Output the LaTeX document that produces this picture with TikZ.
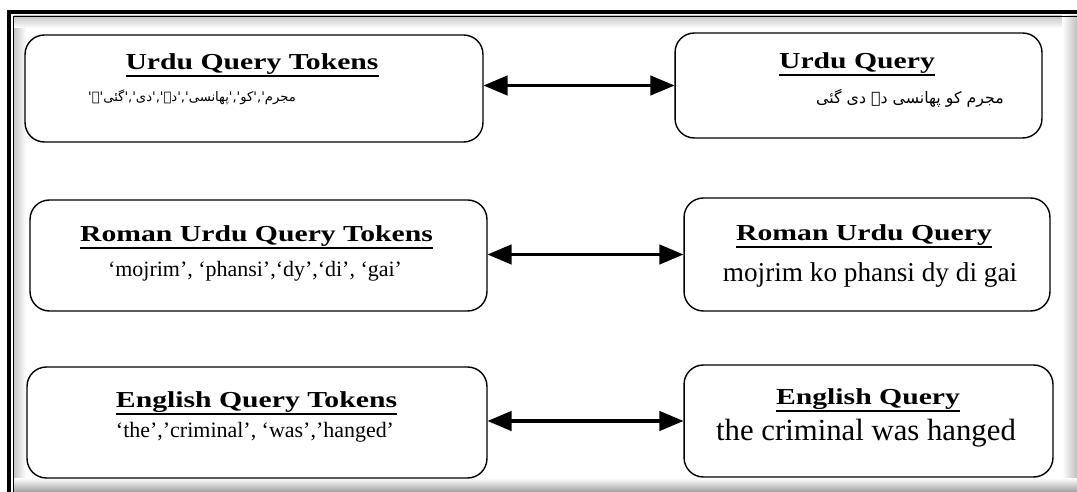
\documentclass[tikz,border=0pt]{standalone}
\usepackage{fontspec}
\usepackage{graphicx}
\setmainfont{Liberation Serif}
\newfontfamily\urdufont[Script=Arabic]{DejaVu Sans}
\TeXXeTstate=1
\usetikzlibrary{shapes,arrows}
\tikzset{%
	qbox/.style		= {draw, line width = 0.8pt, rectangle, rounded corners = 11pt, fill = white, inner sep = 0pt},
	heading/.style	= {anchor = base, inner sep = 0pt, font = \fontsize{13}{15}\selectfont},
	qtext/.style	= {anchor = base, inner sep = 0pt}, % Box content
	urdu/.style		= {anchor = center, inner sep = 0pt, font = \urdufont\fontsize{7.5}{9}\selectfont},
	link/.style		= {<->, line width = 2.2pt} % Two-way arrow
}
\newcommand{\boxtitle}[1]{\scalebox{1.3}[1]{\bfseries\setbox0\hbox{#1}\rlap{\rule[-3.8pt]{\wd0}{1.2pt}}\box0}}

\begin{document}
\begin{tikzpicture}[x = 0.02cm, y = -0.02cm, >=triangle 45]
	\useasboundingbox[fill = white] (0,0) rectangle (1077,492);
	% Frame and its shadow
	\shade[left color = gray!45, right color = white] (14,16) rectangle (26,492);
	\shade[top color = gray!45, bottom color = white] (14,16) rectangle (1077,28);
	\shade[left color = white, right color = gray!50] (1062,16) rectangle (1077,492);
	\shade[top color = white, bottom color = gray!75] (14,478) rectangle (1077,492);
	\draw[line width = 2.4pt] (9,492) -- (9,12) -- (1077,12);
	\draw[line width = 0.6pt] (13.5,492) -- (13.5,16.5) -- (1077,16.5);

	\draw % Drawing the boxes
	node at (254,88.5) [qbox, minimum width = 9.16cm, minimum height = 2.14cm] (utok) {}
	node at (858.5,85.5) [qbox, minimum width = 7.34cm, minimum height = 2.1cm] (uq) {}
	node at (258.5,255.5) [qbox, minimum width = 9.14cm, minimum height = 2.22cm] (rtok) {}
	node at (867,254.5) [qbox, minimum width = 7.32cm, minimum height = 2.26cm] (rq) {}
	node at (257,422.5) [qbox, minimum width = 9.2cm, minimum height = 2.22cm] (etok) {}
	node at (868.5,421) [qbox, minimum width = 7.38cm, minimum height = 2.24cm] (eq) {}
	;

	\draw % Drawing the texts
	node at (252,70) [heading] (utokT) {\boxtitle{Urdu Query Tokens}}
	node at (857,69) [heading] (uqT) {\boxtitle{Urdu Query}}
	node at (256.5,242) [heading] (rtokT) {\boxtitle{Roman Urdu Query Tokens}}
	node at (864,241) [heading] (rqT) {\boxtitle{Roman Urdu Query}}
	node at (256.5,408) [heading] (etokT) {\boxtitle{English Query Tokens}}
	node at (868,405) [heading] (eqT) {\boxtitle{English Query}}
	node at (192,97) [urdu] (utokW) {\beginR مجرم','کو','پھانسی','دے','دی','گئی'۔'\endR}
	node at (910,98) [urdu, font = \urdufont\fontsize{9}{11}\selectfont] (uqW) {\beginR مجرم کو پھانسی دے دی گئی\endR}
	node at (255,277) [qtext, font = \fontsize{12.5}{14}\selectfont] (rtokW) {‘mojrim’, ‘phansi’,‘dy’,‘di’, ‘gai’}
	node at (870,282) [qtext, font = \fontsize{15.5}{18}\selectfont] (rqW) {mojrim ko phansi dy di gai}
	node at (255,438) [qtext, font = \fontsize{12.5}{14}\selectfont] (etokW) {‘the’,’criminal’, ‘was’,’hanged’}
	node at (866,440) [qtext, font = \fontsize{17.5}{20}\selectfont] (eqW) {the criminal was hanged}
	;

	% Drawing the arrows
	\draw[link] (utok.east |- uq.west) -- (uq.west);
	\draw[link] (rtok.east |- rq.west) -- (rq.west);
	\draw[link] (etok.east |- eq.west) -- (eq.west);
\end{tikzpicture}
\end{document}
